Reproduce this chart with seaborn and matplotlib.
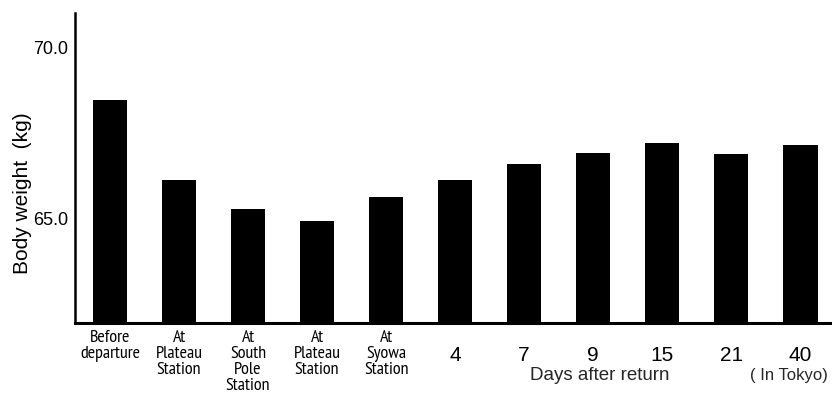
import numpy as np
import matplotlib
matplotlib.use("Agg")
import matplotlib.pyplot as plt
import seaborn as sns

# Body weight at each stage of the traverse and after return
stage_labels = [
    "Before\ndeparture",
    "At\nPlateau\nStation",
    "At\nSouth\nPole\nStation",
    "At\nPlateau\nStation",
    "At\nSyowa\nStation",
    "4", "7", "9", "15", "21", "40",
]
weights = [68.45, 66.13, 65.28, 64.94, 65.62, 66.13, 66.60, 66.91, 67.20, 66.89, 67.16]
y_ticks = [65.0, 70.0]
y_tick_labels = ["65.0", "70.0"]
n_named = 5  # first stages carry names, the rest are day counts

sns.set_style("white")
plt.rcParams["font.family"] = ["Liberation Sans", "DejaVu Sans"]
narrow = ["PT Sans Narrow", "Liberation Sans", "DejaVu Sans"]

fig = plt.figure(figsize=(8.32, 3.94), dpi=100)
ax = fig.add_axes([0.090, 0.180, 0.910, 0.787])

positions = np.arange(len(weights))
sns.barplot(x=positions, y=weights, color="black", width=0.5,
            saturation=1, ax=ax, edgecolor="black", linewidth=0)

ax.set_xlim(-0.51, 10.46)
ax.set_ylim(61.95, 71.0)

# spines
for side in ("top", "right"):
    ax.spines[side].set_visible(False)
ax.spines["left"].set_linewidth(1.8)
ax.spines["bottom"].set_linewidth(2.2)
ax.spines["left"].set_color("black")
ax.spines["bottom"].set_color("black")

# y axis
ax.set_yticks(y_ticks)
ax.set_yticklabels(y_tick_labels)
ax.tick_params(axis="y", direction="in", length=5, width=1.5, pad=5,
               labelsize=13, colors="black")
ax.set_ylabel("Body weight  (kg)", fontsize=15, color="black")
ax.yaxis.set_label_coords(-0.057, 0.42)

# x axis: stage names and day counts
ax.set_xticks(positions)
ax.set_xticklabels(stage_labels)
ax.tick_params(axis="x", length=0, pad=5, colors="black")
ticks = ax.xaxis.get_major_ticks()
for i, (tick, lbl) in enumerate(zip(ticks, ax.get_xticklabels())):
    if i < n_named:
        lbl.set_fontfamily(narrow)
        lbl.set_fontsize(13)
        lbl.set_linespacing(1.0)
    else:
        lbl.set_fontsize(15)
        tick.set_pad(16.5)

ax.set_xlabel("")
ax.annotate("Days after return", xy=(7.1, 0), xycoords=("data", "axes fraction"),
            xytext=(0, -41), textcoords="offset points", ha="center",
            va="baseline", fontsize=13.5)
ax.annotate("( In Tokyo)", xy=(9.83, 0), xycoords=("data", "axes fraction"),
            xytext=(0, -41), textcoords="offset points", ha="center",
            va="baseline", fontsize=12)

fig.savefig("out.png", dpi=100, facecolor="white")
